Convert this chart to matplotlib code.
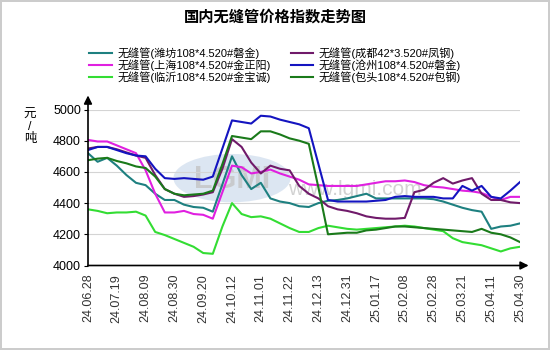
import numpy as np
import matplotlib
matplotlib.use("Agg")
import matplotlib.pyplot as plt
from matplotlib.patches import Ellipse

plt.rcParams['font.family'] = ['Liberation Sans', 'Noto Sans CJK SC', 'DejaVu Sans']

# weekly index values, 24.06.28 .. 25.04.30
tick_labels = ['24.06.28', '24.07.19', '24.08.09', '24.08.30', '24.09.20', '24.10.12',
               '24.11.01', '24.11.22', '24.12.13', '24.12.31', '25.01.17', '25.02.08',
               '25.02.28', '25.03.21', '25.04.11', '25.04.30']

weifang = [4720, 4665, 4690, 4640, 4580, 4530, 4515, 4460, 4420, 4420,
           4390, 4375, 4370, 4345, 4520, 4700, 4580, 4490, 4530, 4430,
           4410, 4400, 4380, 4375, 4400, 4415, 4420, 4430, 4445, 4460,
           4430, 4430, 4430, 4430, 4430, 4430, 4425, 4410, 4390, 4370,
           4355, 4345, 4235, 4250, 4255, 4270]
shanghai = [4805, 4795, 4795, 4770, 4745, 4720, 4610, 4460, 4340, 4340,
            4350, 4330, 4325, 4300, 4470, 4640, 4630, 4590, 4600, 4615,
            4590, 4570, 4550, 4520, 4515, 4510, 4510, 4510, 4510, 4520,
            4530, 4540, 4540, 4545, 4535, 4515, 4505, 4500, 4490, 4480,
            4475, 4465, 4440, 4420, 4440, 4440]
linyi = [4360, 4350, 4335, 4340, 4340, 4345, 4320, 4215, 4195, 4170,
         4145, 4120, 4080, 4075, 4250, 4400, 4330, 4310, 4315, 4300,
         4270, 4240, 4215, 4215, 4240, 4255, 4245, 4235, 4230, 4235,
         4240, 4245, 4250, 4255, 4250, 4240, 4230, 4220, 4175, 4150,
         4140, 4130, 4110, 4090, 4110, 4120]
chengdu = [4750, 4760, 4760, 4745, 4725, 4705, 4690, 4580, 4490, 4460,
           4440, 4445, 4455, 4470, 4620, 4810, 4760, 4660, 4590, 4640,
           4620, 4610, 4510, 4460, 4430, 4380, 4360, 4350, 4335, 4315,
           4305, 4300, 4300, 4305, 4470, 4485, 4530, 4560, 4525, 4545,
           4560, 4460, 4420, 4420, 4405, 4400]
cangzhou = [4740, 4760, 4760, 4740, 4720, 4705, 4700, 4620, 4560, 4555,
            4560, 4555, 4550, 4570, 4750, 4930, 4920, 4910, 4960, 4955,
            4935, 4920, 4905, 4880, 4650, 4420, 4410, 4410, 4410, 4410,
            4415, 4420, 4440, 4445, 4440, 4440, 4440, 4430, 4430, 4510,
            4480, 4510, 4440, 4430, 4480, 4535]
baotou = [4675, 4685, 4690, 4670, 4655, 4635, 4625, 4570, 4490, 4460,
          4450, 4455, 4460, 4480, 4650, 4830, 4820, 4810, 4860, 4860,
          4840, 4815, 4800, 4780, 4500, 4200, 4205, 4210, 4210, 4225,
          4230, 4240, 4250, 4250, 4245, 4240, 4235, 4230, 4225, 4220,
          4215, 4235, 4210, 4200, 4180, 4150]

series = [
    ('无缝管(潍坊108*4.520#磐金)', weifang, '#1e8080'),
    ('无缝管(上海108*4.520#金正阳)', shanghai, '#e020e0'),
    ('无缝管(临沂108*4.520#金宝诚)', linyi, '#33dd33'),
    ('无缝管(成都42*3.520#凤钢)', chengdu, '#701a6a'),
    ('无缝管(沧州108*4.520#磐金)', cangzhou, '#1414c0'),
    ('无缝管(包头108*4.520#包钢)', baotou, '#1a7a1a'),
]

x = np.arange(len(weifang))

fig = plt.figure(figsize=(5.5, 3.5), dpi=100, edgecolor='#cccccc', linewidth=1.5)
ax = fig.add_axes([88 / 550, 1 - 265.5 / 350, 432 / 550, 156 / 350])

# faint site watermark
ax.add_patch(Ellipse((15.0, 4560), 12.2, 310, facecolor='#c6d6ea', edgecolor='none',
                     alpha=0.6, zorder=0))
ax.text(15.0, 4545, 'LGMI', fontsize=22, fontweight='bold', color='#c4c4c4',
        ha='center', va='center', alpha=0.8, zorder=0)
ax.text(20.8, 4490, 'www.lgmi.com', fontsize=15, color='#d2d2d2',
        ha='left', va='center', zorder=0)

for name, vals, color in series:
    ax.plot(x, vals, color=color, lw=1.5, label=name, solid_joinstyle='round', zorder=3)

ax.set_xlim(0, len(x) - 1)
ax.set_ylim(4000, 5000)
ax.set_yticks([4000, 4200, 4400, 4600, 4800, 5000])
ax.set_xticks(np.arange(0, len(x), 3))
ax.set_xticklabels(tick_labels, rotation=90, fontsize=9, color='#333333')
ax.tick_params(axis='y', labelsize=9, length=3, pad=2)
ax.tick_params(axis='x', length=0, pad=6)
for v in [4200, 4400, 4600, 4800, 5000]:
    ax.axhline(v, color='#d4d4d4', lw=0.8, zorder=1)

for s in ['top', 'right', 'bottom', 'left']:
    ax.spines[s].set_visible(False)
ax.annotate('', xy=(0, 1.09), xytext=(0, 0), xycoords='axes fraction',
            arrowprops=dict(arrowstyle='-|>', color='black', lw=1.2, mutation_scale=12,
                            shrinkA=0, shrinkB=0))
ax.annotate('', xy=(1.02, 0), xytext=(0, 0), xycoords='axes fraction',
            arrowprops=dict(arrowstyle='-|>', color='black', lw=1.2, mutation_scale=12,
                            shrinkA=0, shrinkB=0))

fig.text(0.5, 1 - 17 / 350, '国内无缝管价格指数走势图', ha='center', va='center',
         fontsize=11, fontweight='bold')
fig.text(30 / 550, 1 - 127 / 350, '元\n/\n吨', ha='center', va='center',
         fontsize=9, linespacing=1.0)

fig.legend(loc='upper center', bbox_to_anchor=(0.5, 1 - 42 / 350), ncol=2,
           frameon=False, fontsize=8, handlelength=2.0, handletextpad=0.5,
           columnspacing=1.8, labelspacing=0.02, borderpad=0)

fig.savefig('out.png', dpi=100, facecolor='white')
